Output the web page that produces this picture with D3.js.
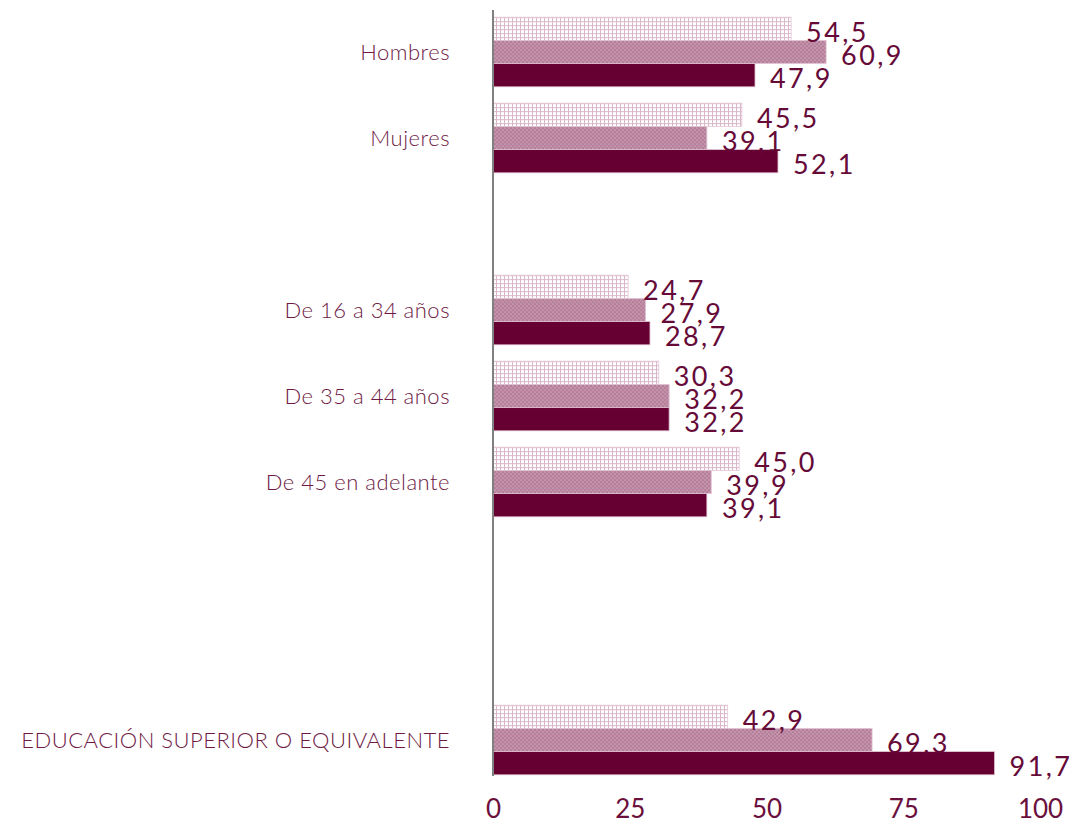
<!DOCTYPE html>
<html>
<head>
<meta charset="utf-8">
<script src="https://cdn.jsdelivr.net/npm/d3@7"></script>
<style>
  body { margin: 0; background: #ffffff; }
  svg { font-family: Lato, "Open Sans", sans-serif; }
</style>
</head>
<body>
<div id="chart"></div>
<script>
const width = 1070,
  height = 825;

// categories (empty strings are the gaps between blocks)
const categories = [
  "Hombres",
  "Mujeres",
  "",
  "De 16 a 34 años",
  "De 35 a 44 años",
  "De 45 en adelante",
  " ",
  "  ",
  "EDUCACIÓN SUPERIOR O EQUIVALENTE",
];

// three series, drawn top to bottom inside each category
const serie1 = [54.5, 45.5, null, 24.7, 30.3, 45.0, null, null, 42.9];
const serie2 = [60.9, 39.1, null, 27.9, 32.2, 39.9, null, null, 69.3];
const serie3 = [47.9, 52.1, null, 28.7, 32.2, 39.1, null, null, 91.7];
const seriesKeys = ["s1", "s2", "s3"];

const xTicks = [0, 25, 50, 75, 100];

const svg = d3
  .select("#chart")
  .append("svg")
  .attr("width", width)
  .attr("height", height);

// patterns
const defs = svg.append("defs");
const p1 = defs
  .append("pattern")
  .attr("id", "pat1")
  .attr("width", 4)
  .attr("height", 4)
  .attr("patternUnits", "userSpaceOnUse");
p1.append("rect").attr("width", 4).attr("height", 4).attr("fill", "#ffffff");
p1.append("rect").attr("width", 4).attr("height", 1).attr("fill", "#d9b6c8");
p1.append("rect").attr("width", 1).attr("height", 4).attr("fill", "#d9b6c8");

const p2 = defs
  .append("pattern")
  .attr("id", "pat2")
  .attr("width", 4)
  .attr("height", 4)
  .attr("patternUnits", "userSpaceOnUse");
p2.append("rect").attr("width", 4).attr("height", 4).attr("fill", "#b47f99");
p2.append("rect").attr("width", 2).attr("height", 2).attr("fill", "#c693ad");
p2.append("rect").attr("x", 2).attr("y", 2).attr("width", 2).attr("height", 2).attr("fill", "#c693ad");

const fills = { s1: "url(#pat1)", s2: "url(#pat2)", s3: "#660033" };

// scales
const x = d3.scaleLinear().domain([0, 100]).range([493, 1040]);
const y = d3.scaleBand().domain(categories).range([9, 783]).paddingInner(0.19).paddingOuter(0.095);
const yInner = d3.scaleBand().domain(seriesKeys).range([0, y.bandwidth()]);

const rows = categories.map((c, i) => ({
  cat: c,
  s1: serie1[i],
  s2: serie2[i],
  s3: serie3[i],
}));

// bars
const groups = svg
  .append("g")
  .selectAll("g")
  .data(rows.filter((d) => d.s1 != null))
  .join("g")
  .attr("transform", (d) => `translate(0, ${y(d.cat)})`);

groups
  .selectAll("rect")
  .data((d) => seriesKeys.map((k) => ({ key: k, value: d[k] })))
  .join("rect")
  .attr("x", x(0))
  .attr("y", (d) => yInner(d.key))
  .attr("width", (d) => x(d.value) - x(0))
  .attr("height", yInner.bandwidth())
  .attr("fill", (d) => fills[d.key])
  .attr("stroke", "#e2c6d4")
  .attr("stroke-width", 0.8);

// value labels
groups
  .selectAll("text")
  .data((d) => seriesKeys.map((k) => ({ key: k, value: d[k] })))
  .join("text")
  .attr("x", (d) => x(d.value) + 15)
  .attr("y", (d) => yInner(d.key) + yInner.bandwidth() / 2 + 13)
  .attr("fill", "#660a38")
  .style("font-size", "27px")
  .style("letter-spacing", "2.4px")
  .text((d) => d3.format(".1f")(d.value).replace(".", ","));

// category labels
svg
  .append("g")
  .selectAll("text")
  .data(categories.filter((c) => c.trim() !== ""))
  .join("text")
  .attr("x", 450)
  .attr("y", (d) => y(d) + y.bandwidth() / 2 + 8)
  .attr("text-anchor", "end")
  .attr("fill", "#6e1a45")
  .style("font-size", "22px")
  .style("font-weight", 300)
  .style("letter-spacing", "0.5px")
  .text((d) => d);

// y axis line
svg
  .append("line")
  .attr("x1", x(0))
  .attr("x2", x(0))
  .attr("y1", 10)
  .attr("y2", 776)
  .attr("stroke", "#808080")
  .attr("stroke-width", 2);

// x axis labels
const xAxis = svg
  .append("g")
  .attr("transform", "translate(0, 795)")
  .call(d3.axisBottom(x).tickValues(xTicks).tickSize(0).tickPadding(0));
xAxis.select(".domain").remove();
xAxis
  .selectAll("text")
  .attr("fill", "#6b0f3d")
  .attr("dy", "0.9em")
  .style("font-family", "Lato, sans-serif")
  .style("font-size", "26px");
</script>
</body>
</html>
